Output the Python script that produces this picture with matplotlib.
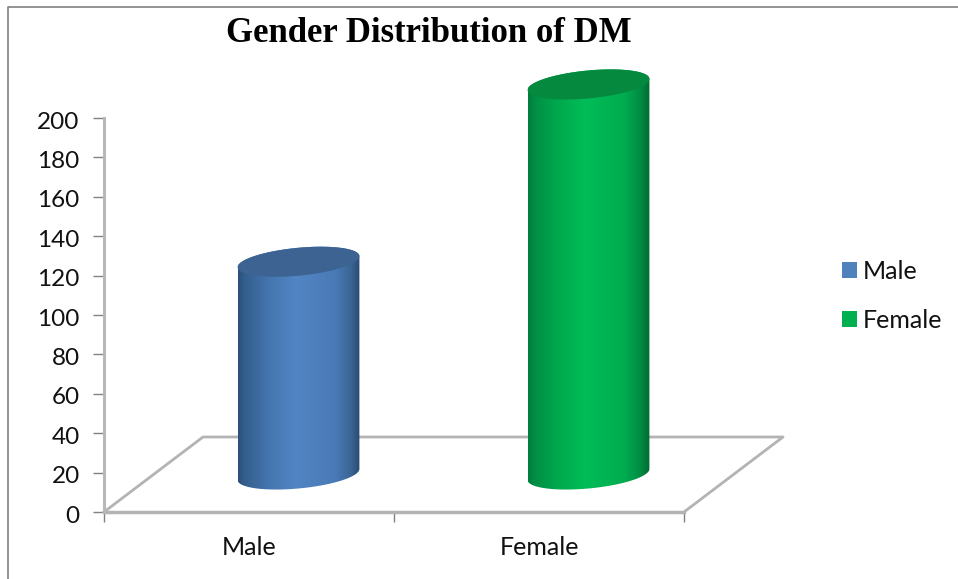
import numpy as np
import matplotlib
matplotlib.use('Agg')
import matplotlib.pyplot as plt
from matplotlib.lines import Line2D
from matplotlib.patches import Patch, PathPatch
from matplotlib.path import Path
from matplotlib.colors import LinearSegmentedColormap
from matplotlib.transforms import ScaledTranslation

categories = ['Male', 'Female']
counts = [108, 198]
y_ticks = [0, 20, 40, 60, 80, 100, 120, 140, 160, 180, 200]
legend_colors = ['#4f81bd', '#00b050']
stop_pos = [0, 0.06, 0.25, 0.47, 0.8, 0.93, 1]
side_stops = [['#2b4f7c', '#34608f', '#4475ae', '#5285c4', '#4a7ab6', '#396594', '#2a4a72'],
              ['#007d3c', '#008f45', '#00a94e', '#00bd58', '#00ab4f', '#008a42', '#006a33']]
top_colors = ['#3c6391', '#05893f']

W, H = 958, 579
fig = plt.figure(figsize=(W / 100, H / 100), dpi=100)
# plot box runs from the zero tick to the last category tick
ax = fig.add_axes([104 / W, 1 - 512 / H, 580 / W, 394 / H])
ax.patch.set_alpha(0)

# floor depth in axis units
depth_x = 99 / 290
depth_y = 75 / 1.97
half_w = 0.21
ell_b = 7.1
ell_s = 2.8


def ring(cx, cy, t):
    return cx + half_w * np.cos(t), cy + ell_b * np.sin(t) + ell_s * np.cos(t)


def draw_cylinder(i, value):
    cx = i + 0.5 + depth_x / 2
    base = depth_y / 2
    top = base + value
    # side: lower half of the base ring, upper rim closed by the top ring
    t_low = np.linspace(np.pi, 2 * np.pi, 60)
    t_high = np.linspace(0, np.pi, 60)
    xb, yb = ring(cx, base, t_low)
    xt, yt = ring(cx, top, t_high)
    verts = np.r_[np.c_[xb, yb], np.c_[xt, yt]]
    side = PathPatch(Path(np.r_[verts, verts[:1]], closed=True), fc='none', ec='none',
                     transform=ax.transData, clip_on=False)
    ax.add_patch(side)
    cmap = LinearSegmentedColormap.from_list('side', list(zip(stop_pos, side_stops[i])))
    shade = np.linspace(0, 1, 256).reshape(1, -1)
    img = ax.imshow(shade, cmap=cmap, aspect='auto', zorder=3, interpolation='bilinear',
                    extent=[cx - half_w, cx + half_w, base - 15, top + 15])
    # the taller bar rises past the top of the value axis
    img.set_clip_box(fig.bbox)
    img.set_clip_path(side)
    # top face
    t = np.linspace(0, 2 * np.pi, 120)
    xe, ye = ring(cx, top, t)
    ax.fill(xe, ye, color=top_colors[i], lw=0, zorder=4, clip_on=False)


for i, v in enumerate(counts):
    draw_cylinder(i, v)

# floor
floor_c = '#b3b3b3'
ax.plot([0, depth_x, 2 + depth_x, 2], [0, depth_y, depth_y, 0], color=floor_c, lw=2,
        zorder=2, clip_on=False)
ax.plot([0, 2], [0, 0], color=floor_c, lw=2.5, zorder=2, clip_on=False)

ax.set_xlim(0, 2)
ax.set_ylim(0, 200)
for name in ['top', 'right', 'bottom']:
    ax.spines[name].set_visible(False)
ax.spines['left'].set_color('#b8b8b8')
ax.spines['left'].set_linewidth(2.2)

ax.set_yticks(y_ticks)
ax.set_xticks([0, 1, 2])
ax.set_xticklabels([])
ax.set_xticks([0.5, 1.5], minor=True)
ax.set_xticklabels(categories, minor=True, fontsize=18, family='Lato', color='#111111')
ax.tick_params(axis='x', which='minor', length=0, pad=17)
ax.tick_params(axis='x', which='major', length=7, width=1, color='#808080')
ax.tick_params(axis='y', length=8, width=1, color='#808080', pad=9.5, labelsize=17.5,
               labelcolor='#111111')
# value labels sit a little below their ticks
nudge = ScaledTranslation(0, -1.5 / 72, fig.dpi_scale_trans)
for lab in ax.get_yticklabels():
    lab.set_family('Lato')
    lab.set_transform(lab.get_transform() + nudge)

fig.text(429 / W, 1 - 34 / H, 'Gender Distribution of DM', ha='center', va='center',
         fontsize=25, fontweight='bold', family='Liberation Serif', color='black')

handles = [Patch(fc=c, ec='none') for c in legend_colors]
leg = fig.legend(handles, categories, loc='center left', frameon=False,
                 bbox_to_anchor=(842 / W, 1 - 296 / H), prop={'family': 'Lato', 'size': 18},
                 handlelength=0.6, handleheight=0.6, handletextpad=0.22, labelspacing=1.03,
                 borderpad=0, borderaxespad=0)
for t in leg.get_texts():
    t.set_color('#111111')

# outer chart border, only top and left are visible
fig.add_artist(Line2D([8 / W, 8 / W, 1], [0, 1 - 7 / H, 1 - 7 / H], color='#808080', lw=1.2))

fig.savefig('out.png', dpi=100)
